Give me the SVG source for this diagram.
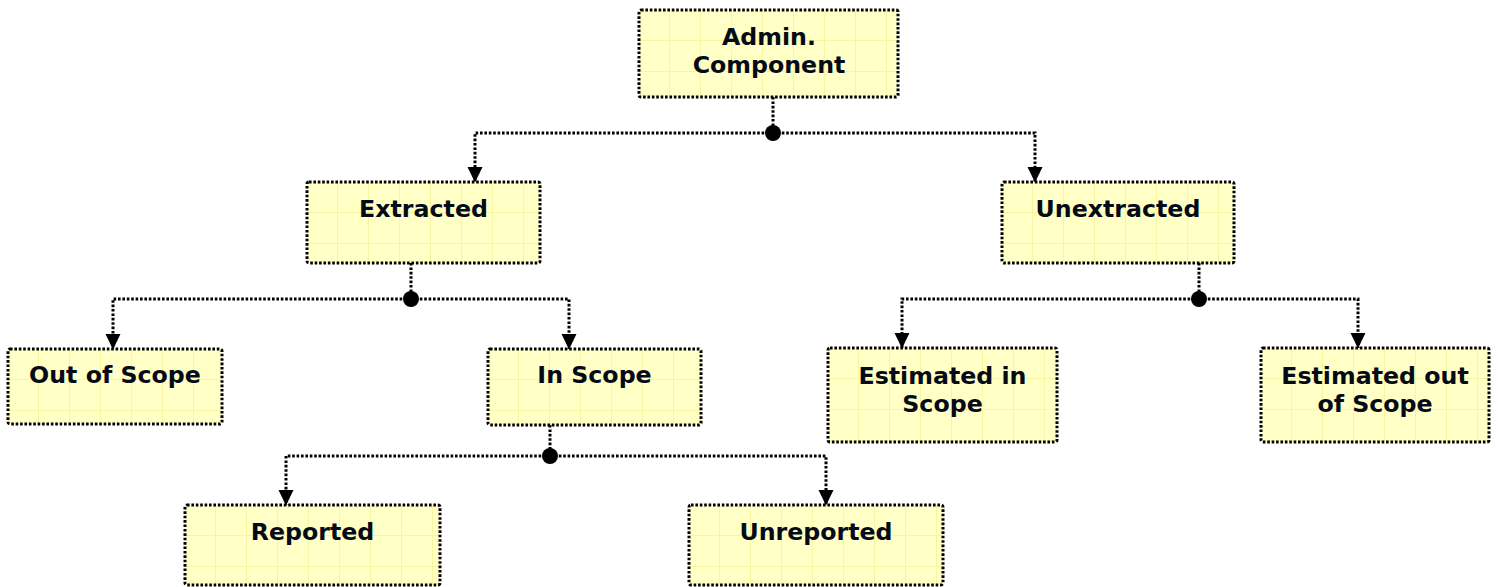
<svg xmlns="http://www.w3.org/2000/svg" width="1499" height="587" viewBox="0 0 1499 587">
<style>
.box{fill:url(#grid);stroke:#000;stroke-width:3;stroke-dasharray:2.6 1.8}
.lbl{font-family:"DejaVu Sans",Verdana,sans-serif;font-weight:bold;font-size:23.7px;fill:#050a18;text-anchor:middle}
.wire{fill:none;stroke:#000;stroke-width:3;stroke-dasharray:2.6 1.8}
.dot{fill:#000}
</style>
<defs>
<pattern id="grid" patternUnits="userSpaceOnUse" width="31" height="31">
<rect width="31" height="31" fill="#FFFFC6"/>
<path d="M30.5 0V31M0 30.5H31" stroke="#F6F6A2" stroke-width="1" fill="none"/>
</pattern>
<marker id="arr" markerUnits="userSpaceOnUse" markerWidth="17" markerHeight="17" refX="15" refY="8" orient="auto">
<path d="M0 0.5L15.5 8L0 15.5Z" fill="#000"/>
</marker>
</defs>
<g id="connectors">
<path class="wire" d="M773 97V133"/>
<path class="wire" d="M773 133H475V182" marker-end="url(#arr)"/>
<path class="wire" d="M773 133H1035V182" marker-end="url(#arr)"/>
<circle class="dot" cx="773" cy="133" r="8"/>
<path class="wire" d="M411 263V299"/>
<path class="wire" d="M411 299H113V349" marker-end="url(#arr)"/>
<path class="wire" d="M411 299H569V349" marker-end="url(#arr)"/>
<circle class="dot" cx="411" cy="299" r="8"/>
<path class="wire" d="M1199 263V299"/>
<path class="wire" d="M1199 299H902V348" marker-end="url(#arr)"/>
<path class="wire" d="M1199 299H1358V348" marker-end="url(#arr)"/>
<circle class="dot" cx="1199" cy="299" r="8"/>
<path class="wire" d="M550 425V456"/>
<path class="wire" d="M550 456H286V505" marker-end="url(#arr)"/>
<path class="wire" d="M550 456H826V505" marker-end="url(#arr)"/>
<circle class="dot" cx="550" cy="456" r="8"/>
</g>
<g id="admin" transform="translate(639,10)">
<rect class="box" width="259" height="87" rx="2"/>
<text class="lbl" x="130" y="35">Admin.</text>
<text class="lbl" x="130" y="63">Component</text>
</g>
<g id="extracted" transform="translate(307,182)">
<rect class="box" width="233" height="81" rx="2"/>
<text class="lbl" x="116.5" y="35">Extracted</text>
</g>
<g id="unextracted" transform="translate(1002,182)">
<rect class="box" width="232" height="81" rx="2"/>
<text class="lbl" x="116" y="35">Unextracted</text>
</g>
<g id="outofscope" transform="translate(8,349)">
<rect class="box" width="214" height="75" rx="2"/>
<text class="lbl" x="107" y="34">Out of Scope</text>
</g>
<g id="inscope" transform="translate(488,349)">
<rect class="box" width="213" height="76" rx="2"/>
<text class="lbl" x="106.5" y="34">In Scope</text>
</g>
<g id="estin" transform="translate(828,348)">
<rect class="box" width="229" height="94" rx="2"/>
<text class="lbl" x="114.5" y="36">Estimated in</text>
<text class="lbl" x="114.5" y="64">Scope</text>
</g>
<g id="estout" transform="translate(1261,348)">
<rect class="box" width="228" height="94" rx="2"/>
<text class="lbl" x="114" y="36">Estimated out</text>
<text class="lbl" x="114" y="64">of Scope</text>
</g>
<g id="reported" transform="translate(185,505)">
<rect class="box" width="255" height="80" rx="2"/>
<text class="lbl" x="127.5" y="35">Reported</text>
</g>
<g id="unreported" transform="translate(689,505)">
<rect class="box" width="254" height="80" rx="2"/>
<text class="lbl" x="127" y="35">Unreported</text>
</g>
</svg>
